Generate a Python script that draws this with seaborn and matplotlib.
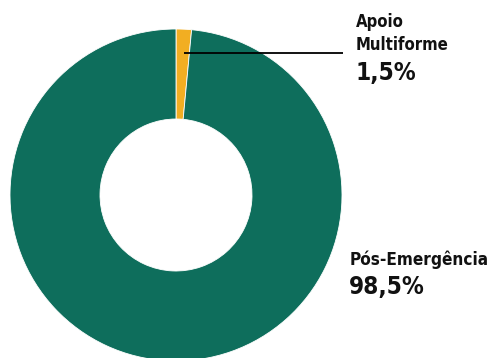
import matplotlib
matplotlib.use("Agg")
import matplotlib.pyplot as plt
import seaborn as sns

categories = ["Apoio\nMultiforme", "Pós-Emergência"]
values = [1.5, 98.5]
value_labels = ["1,5%", "98,5%"]
colors = sns.color_palette(["#f2ae22", "#0e6e5c"])

sns.set_theme(style="white")
plt.rcParams["font.family"] = ["DejaVu Sans"]
plt.rcParams["font.stretch"] = "condensed"

W, H = 492, 358
fig = plt.figure(figsize=(W / 100, H / 100), dpi=100)
ax = fig.add_axes([0, 0, 1, 1])

cx, cy, r_out, r_in = 176, H - 195, 166, 76
ax.pie(values, colors=colors, startangle=90, counterclock=False,
       center=(cx, cy), radius=r_out, frame=True,
       wedgeprops=dict(width=r_out - r_in, edgecolor="white", linewidth=0.6))
ax.set_xlim(0, W)
ax.set_ylim(0, H)
ax.set_aspect("equal")
ax.axis("off")

# leader line for the small slice
ax.plot([184, 343], [H - 53, H - 53], color="black", lw=1.3, solid_capstyle="butt")

txt = dict(fontweight="bold", va="center", ha="left", color="#111111", fontstretch="condensed")
ax.text(356, H - 22, "Apoio", fontsize=12, **txt)
ax.text(356, H - 45, "Multiforme", fontsize=12, **txt)
ax.text(355, H - 73, value_labels[0], fontsize=17.5, **txt)

ax.text(350, H - 260, categories[1], fontsize=12.3, **txt)
ax.text(349, H - 287, value_labels[1], fontsize=17.5, **txt)

fig.savefig("out.png", dpi=100, facecolor="white")
